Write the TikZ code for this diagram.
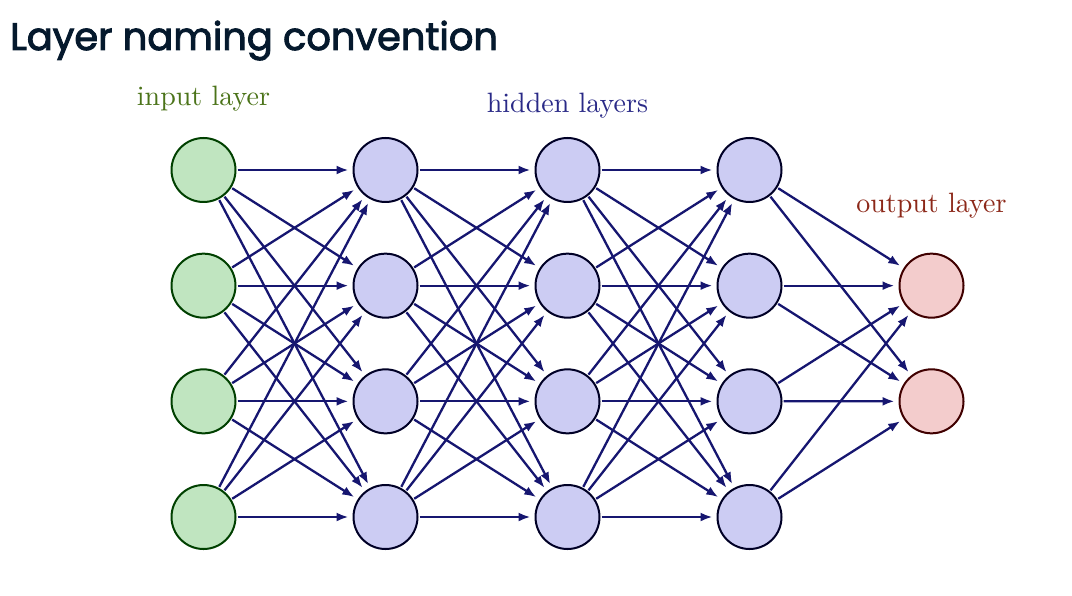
\documentclass[tikz,border=0pt]{standalone}
\usepackage{fontspec}
\newfontfamily\titlefont{Poppins}[FakeBold=2.5]
\newfontfamily\labelfont{lmroman10-regular}[Extension=.otf]
\usetikzlibrary{arrows.meta}
\definecolor{titlecol}{RGB}{5,25,45}
\definecolor{edgecol}{RGB}{22,22,112}
\definecolor{infill}{RGB}{192,229,192}
\definecolor{hidfill}{RGB}{204,204,243}
\definecolor{outfill}{RGB}{243,204,204}
\definecolor{intext}{RGB}{75,115,25}
\definecolor{hidtext}{RGB}{42,42,135}
\definecolor{outtext}{RGB}{140,40,25}
\tikzset{
  neuron/.style={circle, minimum size=64pt, inner sep=0pt, line width=2pt},
  inneuron/.style={neuron, draw=green!25!black, fill=infill},
  hidneuron/.style={neuron, draw=blue!15!black, fill=hidfill},
  outneuron/.style={neuron, draw=red!25!black, fill=outfill},
  conn/.style={-{Latex[length=12pt,width=9pt]}, draw=edgecol, line width=2.3pt, shorten >=4pt, shorten <=1pt},
  layerlabel/.style={font=\labelfont\fontsize{28}{30}\selectfont, anchor=base},
}
\begin{document}
\begin{tikzpicture}[x=1pt, y=-1pt]
    \useasboundingbox (0,0) rectangle (1072,596);
    \node[anchor=base west, inner sep=0pt, text=titlecol, font=\titlefont\fontsize{38.4}{44}\selectfont] (title) at (10,50) {Layer naming convention};
    % layer labels
    \node[layerlabel, text=intext] (inlabel) at (203.5,106) {input layer};
    \node[layerlabel, text=hidtext] (hidlabel) at (567.5,113) {hidden layers};
    \node[layerlabel, text=outtext] (outlabel) at (931.5,213) {output layer};
    % neurons
    \foreach \r in {1,...,4}
        \node[inneuron] (i\r) at (203.5,{170+115.67*(\r-1)}) {};
    \foreach \l/\x in {1/385.5, 2/567.5, 3/749.5}
        \foreach \r in {1,...,4}
            \node[hidneuron] (h\l-\r) at (\x,{170+115.67*(\r-1)}) {};
    \node[outneuron] (o1) at (931.5,285.67) {};
    \node[outneuron] (o2) at (931.5,401.33) {};
    % connections
    \foreach \a in {1,...,4}
        \foreach \b in {1,...,4} {
            \draw[conn] (i\a) -- (h1-\b);
            \draw[conn] (h1-\a) -- (h2-\b);
            \draw[conn] (h2-\a) -- (h3-\b);
        }
    \foreach \a in {1,...,4}
        \foreach \b in {1,2}
            \draw[conn] (h3-\a) -- (o\b);
\end{tikzpicture}
\end{document}
